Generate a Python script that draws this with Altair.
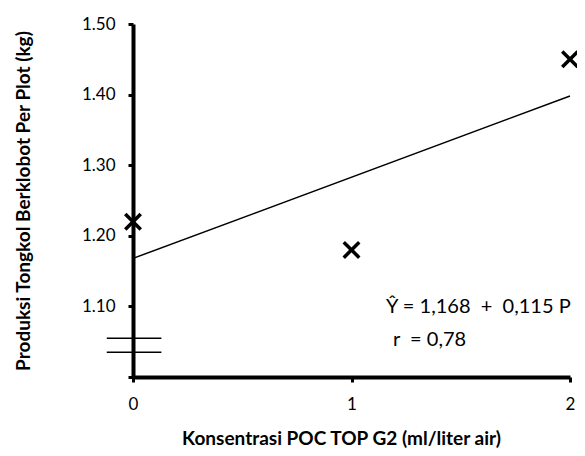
import altair as alt
import pandas as pd

# Observations
konsentrasi = [0, 1, 2]
produksi = [1.22, 1.18, 1.45]

# Regression line endpoints (Ŷ = 1.168 + 0.115 P)
reg_x = [0, 2]
reg_y = [1.168, 1.398]

# Axis break marks
break_y = [1.055, 1.035]
break_x0 = -0.12
break_x1 = 0.13

# Tick values
y_ticks = [1.0, 1.1, 1.2, 1.3, 1.4, 1.5]

# Annotation
ann_text = ["Ŷ = 1,168\u00a0\u00a0+\u00a0\u00a00,115 P", "r\u00a0\u00a0= 0,78"]
ann_x = [1.158, 1.19]
ann_y = [1.099, 1.052]

FONT = "Lato"

pts = pd.DataFrame({"x": konsentrasi, "y": produksi})
reg = pd.DataFrame({"x": reg_x, "y": reg_y})
brk = pd.DataFrame({"x": [break_x0] * 2, "x2": [break_x1] * 2, "y": break_y})
ann = pd.DataFrame({"x": ann_x, "y": ann_y, "t": ann_text})

xscale = alt.Scale(domain=[0, 2], nice=False, zero=False)
yscale = alt.Scale(domain=[1.0, 1.5], nice=False, zero=False)

xaxis = alt.Axis(
    title="Konsentrasi POC TOP G2 (ml/liter air)",
    tickCount=2, grid=False,
    labelExpr="format(datum.value, 'd')",
    labelOverlap=False, labelFlush=False,
    domainColor="black", domainWidth=4, tickColor="black", tickWidth=3, tickSize=5,
    labelFont=FONT, labelFontSize=17, labelColor="black", labelPadding=14,
    titleFont=FONT, titleFontSize=19, titleFontWeight="bold", titleColor="black",
    titlePadding=17, titleX=208,
)
yaxis = alt.Axis(
    title="Produksi Tongkol Berklobot Per Plot (kg)",
    values=y_ticks, grid=False,
    labelOverlap=False, labelFlush=False,
    labelExpr="datum.value < 1.05 ? '' : format(datum.value, '.2f')",
    domainColor="black", domainWidth=4, tickColor="black", tickWidth=3, tickSize=5,
    labelFont=FONT, labelFontSize=17, labelColor="black", labelPadding=13,
    titleFont=FONT, titleFontSize=19, titleFontWeight="bold", titleColor="black",
    titlePadding=48,
)

line = alt.Chart(reg).mark_line(color="black", strokeWidth=1.5).encode(
    x=alt.X("x:Q", scale=xscale, axis=xaxis),
    y=alt.Y("y:Q", scale=yscale, axis=yaxis),
)

points = alt.Chart(pts).mark_point(
    shape="M-1,-1L1,1M-1,1L1,-1", size=240, strokeWidth=3.5, color="black",
    filled=False, opacity=1
).encode(x="x:Q", y="y:Q")

breaks = alt.Chart(brk).mark_rule(color="black", strokeWidth=1.5).encode(
    x="x:Q", x2="x2:Q", y="y:Q"
)

text = alt.Chart(ann).mark_text(
    align="left", baseline="middle", font=FONT, fontSize=20, color="black"
).encode(x="x:Q", y="y:Q", text="t:N")

chart = alt.layer(line, breaks, points, text).properties(
    width=437, height=353,
    padding={"left": 125, "top": 16, "right": 7, "bottom": 71},
    autosize=alt.AutoSizeParams(type="none"),
).configure_view(stroke=None)

chart.save("out.html", embed_options={"renderer": "svg", "actions": False})
